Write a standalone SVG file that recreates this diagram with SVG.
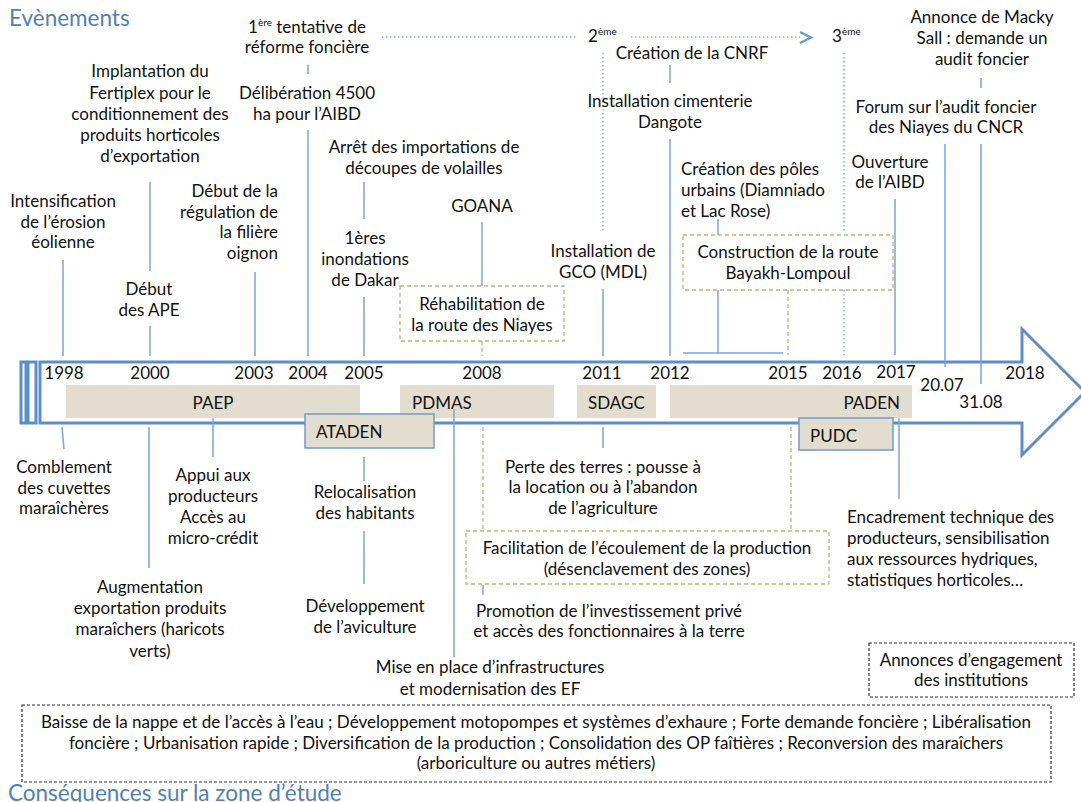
<svg xmlns="http://www.w3.org/2000/svg" width="1081" height="802" viewBox="0 0 1081 802">
<style>
text{font-family:Lato,"Liberation Sans",sans-serif;font-size:17px;fill:#111}
.c{text-anchor:middle}
.e{text-anchor:end}
.h{font-size:22.5px;fill:#4f81bd}
.sup{font-size:10px}
.ln{stroke:#7aa6d8;stroke-width:1.5;fill:none}
.dot{stroke:#8fb3de;stroke-width:1.5;stroke-dasharray:1.5,2.5;fill:none}
.gd{stroke:#a8c46a;stroke-width:1.3;stroke-dasharray:4,3;fill:none}
.gbox{stroke:#a8c46a;stroke-width:1.3;stroke-dasharray:4,3;fill:#fff}
.kbox{stroke:#333;stroke-width:1.2;stroke-dasharray:3,2;fill:#fff}
.bar{fill:#e3ddcf}
.bbar{fill:#e3ddcf;stroke:#6b9bd2;stroke-width:1.5}
.arr{fill:#fff;stroke:#5d8ec9;stroke-width:3}
</style>

<text class="h" x="9" y="26">Evènements</text>
<text class="h" x="8" y="801">Conséquences sur la zone d’étude</text>

<g id="timeline">
<rect class="arr" x="21" y="362" width="5" height="61" stroke-width="2"/>
<rect class="arr" x="28" y="362" width="8" height="61" stroke-width="2"/>
<path class="arr" d="M40,362 L1022,362 L1022,329 L1085,392 L1022,455 L1022,423 L40,423 Z"/>
<g class="c">
<text x="64" y="379">1998</text>
<text x="150" y="379">2000</text>
<text x="254" y="379">2003</text>
<text x="308" y="379">2004</text>
<text x="364" y="379">2005</text>
<text x="482" y="379">2008</text>
<text x="602" y="379">2011</text>
<text x="670" y="379">2012</text>
<text x="788" y="379">2015</text>
<text x="842" y="379">2016</text>
<text x="896" y="378">2017</text>
<text x="942" y="391">20.07</text>
<text x="981" y="408">31.08</text>
<text x="1025" y="379">2018</text>
</g>
</g>

<g id="connectors">
<path class="ln" d="M63,260V356 M150,182V271 M150,326V356 M255,272V356 M308,65V74 M308,130V356 M364,182V219 M364,297V356 M482,222V286 M603,289V356 M670,65V83 M670,139V356 M718,219V235 M718,290V353 M683,353H783 M895,199V355 M945,144V367 M981,78V88 M981,144V384"/>
<path class="gd" d="M482,341V356 M788,290V355"/>
<path class="dot" d="M603,53V232 M844,53V233 M844,290V355 M382,37H577 M631,37H800"/>
<path d="M800,32 L811,37.5 L800,43" fill="none" stroke="#6b9bd2" stroke-width="2.5"/>
<path class="ln" d="M62,427L64,449 M149,427V568 M213,418V457 M364,457V481 M364,531V584 M454,409V657 M483,585V595 M603,427V448 M899,409V499"/>
<path class="gd" d="M483,427V529 M791,427V529"/>
</g>

<g id="paep"><rect class="bar" x="66" y="385" width="294" height="33"/><text class="c" x="213" y="409">PAEP</text></g>
<g id="pdmas"><rect class="bar" x="400" y="385" width="154" height="33"/><text x="412" y="409">PDMAS</text></g>
<g id="sdagc"><rect class="bar" x="577" y="385" width="79" height="33"/><text x="588" y="409">SDAGC</text></g>
<g id="paden"><rect class="bar" x="670" y="385" width="242" height="33"/><text class="e" x="900" y="409">PADEN</text></g>
<g id="ataden"><rect class="bbar" x="305" y="414" width="129" height="34"/><text x="316" y="438">ATADEN</text></g>
<g id="pudc"><rect class="bbar" x="799" y="418" width="94" height="32"/><text x="810" y="442">PUDC</text></g>
<path class="ln" d="M454,409V418"/>

<g id="ev-erosion"><text class="c" x="63" y="207">Intensification</text><text class="c" x="63" y="228">de l’érosion</text><text class="c" x="63" y="248">éolienne</text></g>
<g id="ev-fertiplex"><text class="c" x="150" y="77">Implantation du</text><text class="c" x="150" y="99">Fertiplex pour le</text><text class="c" x="150" y="120">conditionnement des</text><text class="c" x="150" y="141">produits horticoles</text><text class="c" x="150" y="162">d’exportation</text></g>
<g id="ev-ape"><text class="c" x="149" y="295">Début</text><text class="c" x="149" y="316">des APE</text></g>
<g id="ev-oignon"><text class="e" x="278" y="197">Début de la</text><text class="e" x="278" y="218">régulation de</text><text class="e" x="278" y="238">la filière</text><text class="e" x="278" y="259">oignon</text></g>
<g id="ev-reforme1"><text class="c" x="307" y="33">1<tspan class="sup" dy="-7">ère</tspan><tspan dy="7"> tentative de</tspan></text><text class="c" x="307" y="53">réforme foncière</text></g>
<g id="ev-deliberation"><text class="c" x="307" y="99">Délibération 4500</text><text class="c" x="307" y="120">ha pour l’AIBD</text></g>
<g id="ev-volailles"><text class="c" x="424" y="153">Arrêt des importations de</text><text class="c" x="424" y="174">découpes de volailles</text></g>
<g id="ev-inondations"><text class="c" x="365" y="244">1ères</text><text class="c" x="365" y="265">inondations</text><text class="c" x="365" y="286">de Dakar</text></g>
<g id="ev-goana"><text class="c" x="482" y="212">GOANA</text></g>
<g id="ev-route-niayes"><rect class="gbox" x="400" y="286" width="164" height="55"/><text class="c" x="482" y="310">Réhabilitation de</text><text class="c" x="482" y="331">la route des Niayes</text></g>
<g id="ev-reforme2"><text x="588" y="42">2<tspan class="sup" dy="-7">ème</tspan></text></g>
<g id="ev-reforme3"><text x="832" y="42">3<tspan class="sup" dy="-7">ème</tspan></text></g>
<g id="ev-cnrf"><text class="c" x="692" y="59">Création de la CNRF</text></g>
<g id="ev-dangote"><text class="c" x="670" y="107">Installation cimenterie</text><text class="c" x="670" y="128">Dangote</text></g>
<g id="ev-poles"><text x="681" y="175">Création des pôles</text><text x="681" y="196">urbains (Diamniado</text><text x="681" y="217">et Lac Rose)</text></g>
<g id="ev-gco"><text class="c" x="603" y="257">Installation de</text><text class="c" x="603" y="278">GCO (MDL)</text></g>
<g id="ev-route-bayakh"><rect class="gbox" x="683" y="235" width="210" height="55"/><text class="c" x="788" y="258">Construction de la route</text><text class="c" x="788" y="279">Bayakh-Lompoul</text></g>
<g id="ev-macky"><text class="c" x="982" y="23">Annonce de Macky</text><text class="c" x="982" y="44">Sall : demande un</text><text class="c" x="982" y="65">audit foncier</text></g>
<g id="ev-forum"><text class="c" x="946" y="113">Forum sur l’audit foncier</text><text class="c" x="946" y="133">des Niayes du CNCR</text></g>
<g id="ev-aibd"><text class="c" x="890" y="168">Ouverture</text><text class="c" x="890" y="188">de l’AIBD</text></g>

<g id="co-cuvettes"><text class="c" x="64" y="473">Comblement</text><text class="c" x="64" y="494">des cuvettes</text><text class="c" x="64" y="514">maraîchères</text></g>
<g id="co-appui"><text class="c" x="213" y="481">Appui aux</text><text class="c" x="213" y="502">producteurs</text><text class="c" x="213" y="523">Accès au</text><text class="c" x="213" y="544">micro-crédit</text></g>
<g id="co-relocalisation"><text class="c" x="365" y="498">Relocalisation</text><text class="c" x="365" y="519">des habitants</text></g>
<g id="co-terres"><text class="c" x="603" y="473">Perte des terres : pousse à</text><text class="c" x="603" y="493">la location ou à l’abandon</text><text class="c" x="603" y="514">de l’agriculture</text></g>
<g id="co-facilitation"><rect class="gbox" x="466" y="531" width="363" height="53"/><text class="c" x="647" y="554">Facilitation de l’écoulement de la production</text><text class="c" x="647" y="575">(désenclavement des zones)</text></g>
<g id="co-encadrement"><text x="847" y="523">Encadrement technique des</text><text x="847" y="544">producteurs, sensibilisation</text><text x="847" y="565">aux ressources hydriques,</text><text x="847" y="586">statistiques horticoles…</text></g>
<g id="co-export"><text class="c" x="150" y="593">Augmentation</text><text class="c" x="150" y="614">exportation produits</text><text class="c" x="150" y="635">maraîchers (haricots</text><text class="c" x="150" y="657">verts)</text></g>
<g id="co-aviculture"><text class="c" x="365" y="612">Développement</text><text class="c" x="365" y="633">de l’aviculture</text></g>
<g id="co-promotion"><text class="c" x="609" y="617">Promotion de l’investissement privé</text><text class="c" x="609" y="637">et accès des fonctionnaires à la terre</text></g>
<g id="co-infra"><text class="c" x="490" y="673">Mise en place d’infrastructures</text><text class="c" x="490" y="695">et modernisation des EF</text></g>
<g id="legend"><rect class="kbox" x="869" y="643" width="205" height="54"/><text class="c" x="971" y="666">Annonces d’engagement</text><text class="c" x="971" y="686">des institutions</text></g>
<g id="consequences"><rect class="kbox" x="22" y="705" width="1029" height="77"/>
<text class="c" x="536" y="728">Baisse de la nappe et de l’accès à l’eau ; Développement motopompes et systèmes d’exhaure ; Forte demande foncière ; Libéralisation</text>
<text class="c" x="536" y="749">foncière ; Urbanisation rapide ; Diversification de la production ; Consolidation des OP faîtières ; Reconversion des maraîchers</text>
<text class="c" x="536" y="769">(arboriculture ou autres métiers)</text></g>
</svg>
